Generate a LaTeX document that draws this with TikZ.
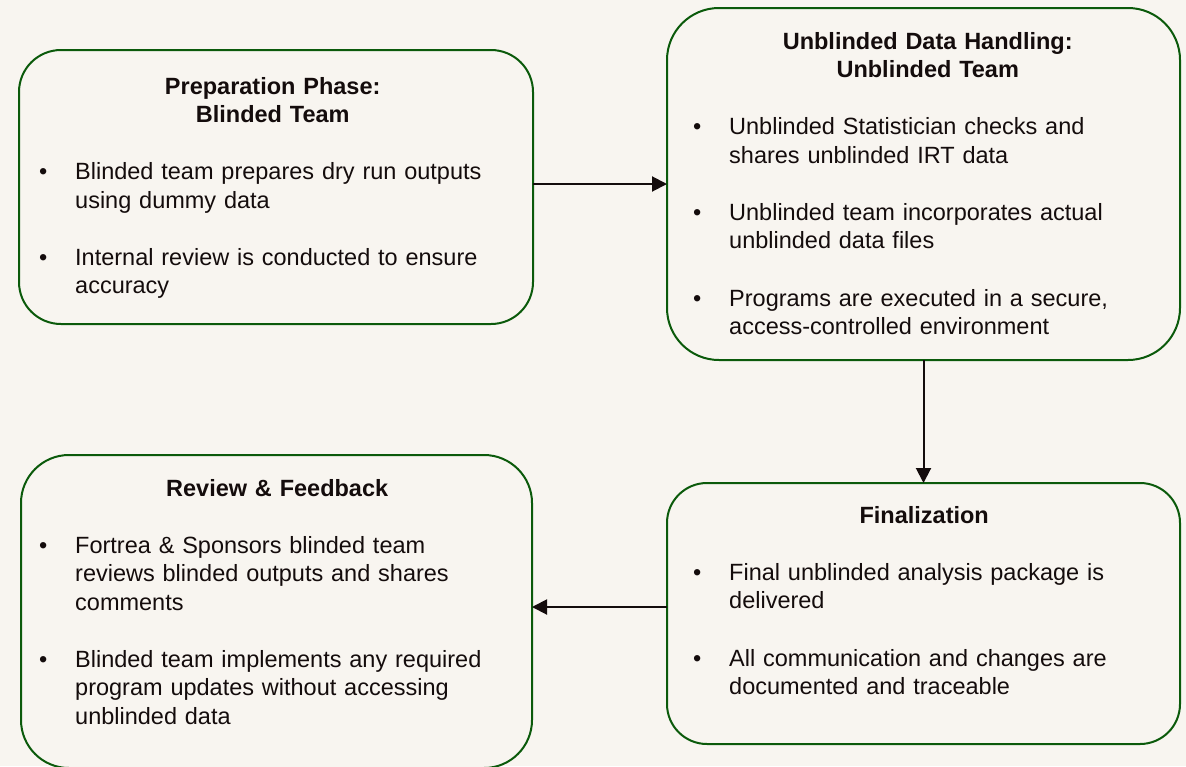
\documentclass[tikz,border=0pt]{standalone}
\usepackage{fontspec}
\setmainfont{Liberation Sans}
\usetikzlibrary{arrows.meta}
\definecolor{bgc}{HTML}{F8F5F0}
\definecolor{boxgreen}{HTML}{0B5A0B}
\definecolor{inkc}{HTML}{140C0C}
\newcommand{\boxtitle}[1]{\setlength{\parskip}{0pt}\setlength{\parindent}{0pt}{\centering\bfseries\strut #1\par}}
\newcommand{\bitem}[1]{\par\vspace{29.3pt}\hangindent=36pt\hangafter=1\noindent\makebox[36pt][l]{\textbullet}#1\par}
\begin{document}
\begin{tikzpicture}[x=1pt,y=-1pt,
  phase/.style={draw=boxgreen, line width=2pt, fill=bgc, inner sep=0pt, outer sep=0pt},
  content/.style={inner sep=0pt, anchor=north west, text=inkc,
    font=\fontsize{23.5}{28.2}\selectfont},
  flow/.style={draw=inkc, line width=2pt, -{Triangle[length=15pt,width=15pt]}}]
\fill[bgc] (0,0) rectangle (1186,766);
\useasboundingbox (0,0) rectangle (1186,766);

\node[phase, minimum width=514pt, minimum height=274pt, rounded corners=42pt] (b1) at (276,187) {};
\node[phase, minimum width=513pt, minimum height=352pt, rounded corners=52pt] (b2) at (923.5,184) {};
\node[phase, minimum width=511pt, minimum height=313pt, rounded corners=48pt] (b3) at (276.5,611.5) {};
\node[phase, minimum width=513pt, minimum height=261pt, rounded corners=40pt] (b4) at (923.5,613.5) {};

\node[content, text width=467pt] (t1) at (39,74.3) {%
\boxtitle{Preparation Phase:\\Blinded Team}%
\bitem{Blinded team prepares dry run outputs\newline using dummy data}%
\bitem{Internal review is conducted to ensure\newline accuracy}};

\node[content, text width=469pt] (t2) at (693,29.3) {%
\boxtitle{Unblinded Data Handling:\\Unblinded Team}%
\bitem{Unblinded Statistician checks and\newline shares unblinded IRT data}%
\bitem{Unblinded team incorporates actual\newline unblinded data files}%
\bitem{Programs are executed in a secure,\newline access-controlled environment}};

\node[content, text width=476pt] (t3) at (39,476.3) {%
\boxtitle{Review \& Feedback}%
\bitem{Fortrea \& Sponsors blinded team\newline reviews blinded outputs and shares\newline comments}%
\bitem{Blinded team implements any required\newline program updates without accessing\newline unblinded data}};

\node[content, text width=462pt] (t4) at (693,503.3) {%
\boxtitle{Finalization}%
\bitem{Final unblinded analysis package is\newline delivered}%
\bitem{All communication and changes are\newline documented and traceable}};

\draw[flow] (b2.west -| b1.east) -- (b2.west);
\draw[flow] (b2.south) -- (b2.south |- b4.north);
\coordinate (a3) at ([yshift=6.5pt]b4.west);
\draw[flow] (a3) -- (a3 -| b3.east);
\end{tikzpicture}
\end{document}
